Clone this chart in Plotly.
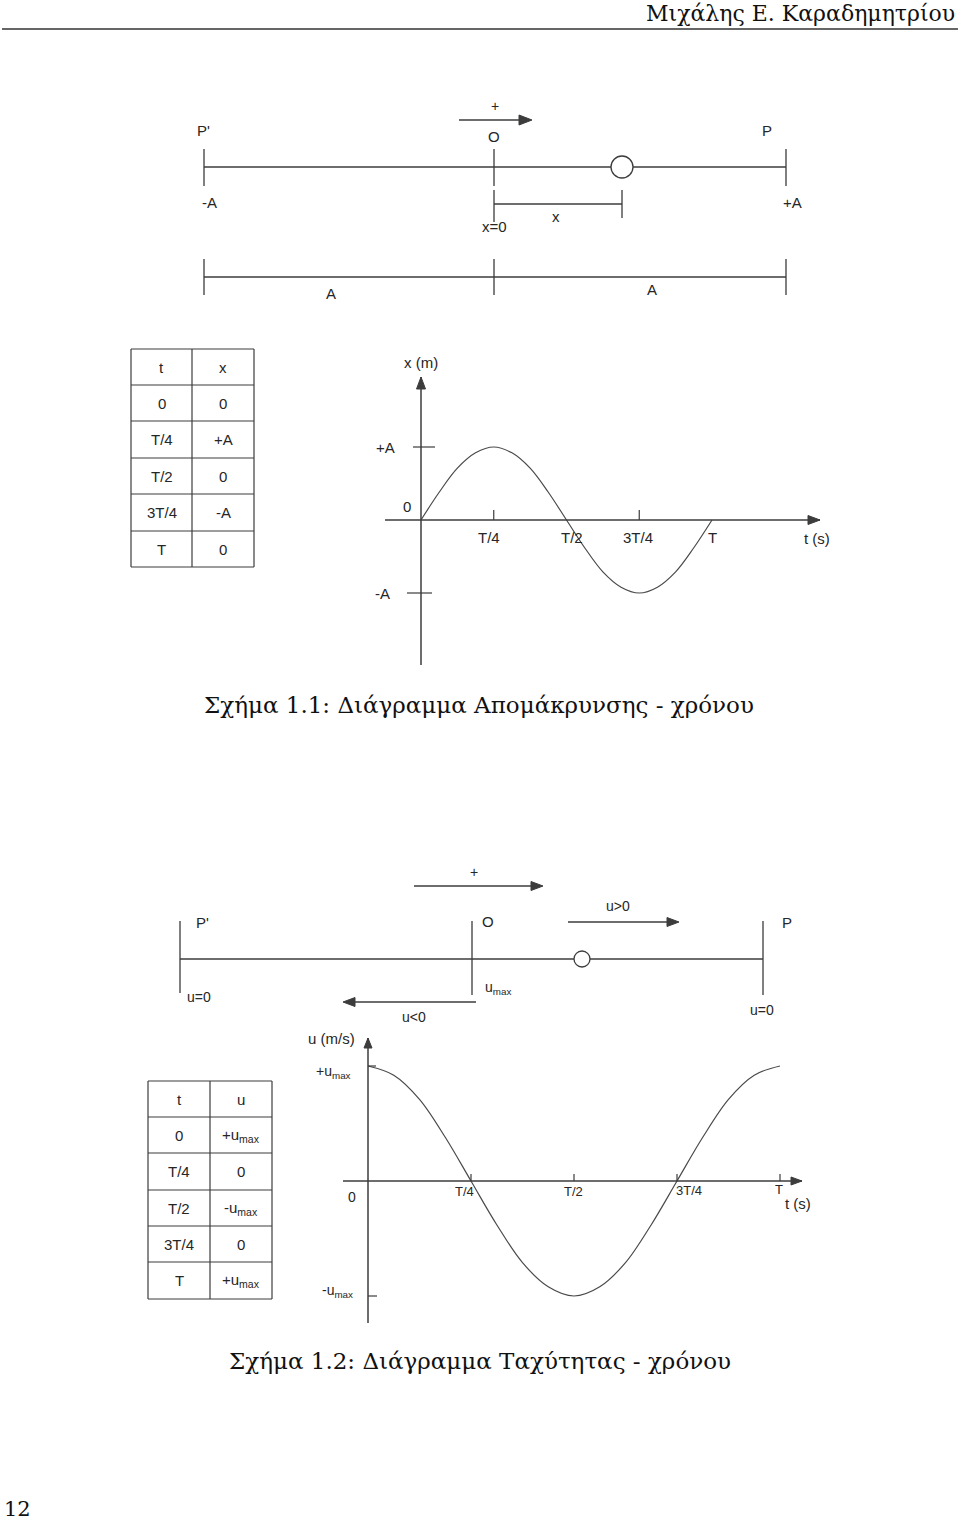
import plotly.graph_objects as go

W, H = 960, 1521

# ---------------- data ----------------
t_labels = ["0", "T/4", "T/2", "3T/4", "T"]
t_key = [0.0, 0.25, 0.5, 0.75, 1.0]
x_key_text = ["0", "+A", "0", "-A", "0"]
u_key_text = ["+u<sub>max</sub>", "0", "-u<sub>max</sub>", "0", "+u<sub>max</sub>"]

# curves (t in units of T, x in units of A, u in units of u_max)
t_curve = [0.0, 0.0625, 0.125, 0.1875, 0.25, 0.3125, 0.375, 0.4375, 0.5,
           0.5625, 0.625, 0.6875, 0.75, 0.8125, 0.875, 0.9375, 1.0]
x_curve = [0.0, 0.38, 0.71, 0.92, 1.0, 0.92, 0.71, 0.38, 0.0,
           -0.38, -0.71, -0.92, -1.0, -0.92, -0.71, -0.38, 0.0]
u_curve = [1.0, 0.92, 0.71, 0.38, 0.0, -0.38, -0.71, -0.92, -1.0,
           -0.92, -0.71, -0.38, 0.0, 0.38, 0.71, 0.92, 1.0]

header_text = "Μιχάλης Ε. Καραδημητρίου"
caption1 = "Σχήμα 1.1: Διάγραμμα Απομάκρυνσης - χρόνου"
caption2 = "Σχήμα 1.2: Διάγραμμα Ταχύτητας - χρόνου"
page_no = "12"

# ---------------- styling ----------------
SANS = "Liberation Sans, Arial, sans-serif"
SERIF = "DejaVu Serif, serif"
LINE = "#3c3c3c"
TXT = "#262626"

shapes = []
ann = []


def seg(x0, y0, x1, y1, xref="x", yref="y", w=1.3, color=LINE):
    shapes.append(dict(type="line", xref=xref, yref=yref, x0=x0, y0=y0, x1=x1, y1=y1,
                       line=dict(color=color, width=w)))


def head(tx, ty, d, L=12, hw=4.5):
    if d == "r":
        pts = [(tx, ty), (tx - L, ty - hw), (tx - L, ty + hw)]
    elif d == "l":
        pts = [(tx, ty), (tx + L, ty - hw), (tx + L, ty + hw)]
    else:  # up
        pts = [(tx, ty), (tx - hw, ty + L), (tx + hw, ty + L)]
    path = "M " + " L ".join(f"{x},{y}" for x, y in pts) + " Z"
    shapes.append(dict(type="path", xref="x", yref="y", path=path, fillcolor=LINE,
                       line=dict(color=LINE, width=1)))


def text(x, y, s, size=14, xref="x", yref="y", xshift=0, yshift=0, family=SANS,
         color=TXT, xanchor="center"):
    ann.append(dict(x=x, y=y, xref=xref, yref=yref, text=s, showarrow=False,
                    font=dict(family=family, size=size, color=color),
                    xanchor=xanchor, yanchor="middle", xshift=xshift, yshift=yshift))


def circle(cx, cy, r):
    shapes.append(dict(type="circle", xref="x", yref="y", x0=cx - r, x1=cx + r,
                       y0=cy - r, y1=cy + r, fillcolor="white",
                       line=dict(color=LINE, width=1.3)))


def table(xs, ys, col0, col1, head0, head1, size=15):
    for y in ys:
        seg(xs[0], y, xs[2], y, w=1.2)
    for x in xs:
        seg(x, ys[0], x, ys[-1], w=1.2)
    cx0 = (xs[0] + xs[1]) / 2
    cx1 = (xs[1] + xs[2]) / 2
    rows = [(head0, head1)] + list(zip(col0, col1))
    for i, (a, b) in enumerate(rows):
        cy = (ys[i] + ys[i + 1]) / 2
        text(cx0, cy, a, size=size)
        text(cx1, cy, b, size=size)


# ---------------- header / footer ----------------
text(957, 13, header_text, size=22, family=SERIF, color="#111", xanchor="right")
seg(2, 29, 958, 29, w=1.8, color="#666")
text(17, 1509, page_no, size=21, family=SERIF, color="#111")

# ---------------- figure 1.1 : top diagram ----------------
text(495, 106, "+", size=14)
seg(459, 120, 520, 120)
head(532, 120, "r", L=13, hw=5)
text(203, 130, "P'", size=15)
text(494, 136, "O", size=15)
text(767, 130, "P", size=15)
seg(204, 167, 786, 167)
for xx in (204, 494, 786):
    seg(xx, 149, xx, 186)
circle(622, 167, 11)
text(209, 202, "-A", size=15)
text(792, 202, "+A", size=15)
seg(494, 190, 494, 222)
seg(494, 204, 622, 204)
seg(622, 190, 622, 218)
text(556, 216, "x", size=15)
text(494, 226, "x=0", size=15)
seg(204, 277, 786, 277)
for xx in (204, 494, 786):
    seg(xx, 259, xx, 295)
text(331, 293, "A", size=15)
text(652, 289, "A", size=15)

# table 1
table([131, 192, 254], [349, 385, 421, 458, 494, 531, 567], t_labels, x_key_text, "t", "x")

# ---------------- figure 1.2 : top diagram ----------------
text(474, 872, "+", size=14)
seg(414, 886, 531, 886)
head(543, 886, "r", L=12, hw=4.5)
text(202, 922, "P'", size=15)
text(488, 921, "O", size=15)
text(618, 906, "u>0", size=14)
seg(568, 922, 667, 922)
head(679, 922, "r", L=12, hw=4.5)
text(787, 922, "P", size=15)
seg(180, 959, 763, 959)
seg(180, 921, 180, 993)
seg(472, 921, 472, 995)
seg(763, 921, 763, 995)
circle(582, 959, 8)
text(199, 997, "u=0", size=14)
text(483, 988, "u<sub>max</sub>", size=14, xanchor="left")
text(414, 1017, "u<0", size=14)
seg(476, 1002, 355, 1002)
head(343, 1002, "l", L=12, hw=4.5)
text(762, 1010, "u=0", size=14)

# table 2
table([148, 210, 272], [1081, 1117, 1153, 1190, 1226, 1262, 1299], t_labels, u_key_text, "t", "u")

# ---------------- graphs ----------------
G1 = dict(ox=421, oy=520, ux=291, uy=73, x0=385, x1=820, y0=377, y1=665)
G2 = dict(ox=368, oy=1181, ux=412, uy=115, x0=343, x1=802, y0=1038, y1=1323)


def axes_for(g):
    xdom = [g["x0"] / W, g["x1"] / W]
    xr = [(g["x0"] - g["ox"]) / g["ux"], (g["x1"] - g["ox"]) / g["ux"]]
    ydom = [1 - g["y1"] / H, 1 - g["y0"] / H]
    yr = [(g["oy"] - g["y1"]) / g["uy"], (g["oy"] - g["y0"]) / g["uy"]]
    return xdom, xr, ydom, yr


xd1, xr1, yd1, yr1 = axes_for(G1)
xd2, xr2, yd2, yr2 = axes_for(G2)

fig = go.Figure()
fig.add_trace(go.Scatter(x=t_curve, y=x_curve, xaxis="x2", yaxis="y2", mode="lines",
                         line=dict(shape="spline", smoothing=1.0, color="#4a4a4a", width=1.2),
                         hoverinfo="skip", showlegend=False))
fig.add_trace(go.Scatter(x=t_curve, y=u_curve, xaxis="x3", yaxis="y3", mode="lines",
                         line=dict(shape="spline", smoothing=1.0, color="#4a4a4a", width=1.2),
                         hoverinfo="skip", showlegend=False))

# graph 1 axes
seg(xr1[0], 0, xr1[1], 0, xref="x2", yref="y2", w=1.5)
seg(0, yr1[0], 0, yr1[1], xref="x2", yref="y2", w=1.5)
head(G1["x1"], G1["oy"], "r", L=12, hw=4.5)
head(G1["ox"], G1["y0"], "u", L=12, hw=4.5)
for tv in (t_key[1], t_key[3]):
    seg(tv, 0, tv, 10 / G1["uy"], xref="x2", yref="y2", w=1.2)
seg(-8 / G1["ux"], 1, 14 / G1["ux"], 1, xref="x2", yref="y2", w=1.2)
seg(-14 / G1["ux"], -1, 11 / G1["ux"], -1, xref="x2", yref="y2", w=1.2)
text(0, 1, x_key_text[1], size=15, xref="x2", yref="y2", xshift=-36)
text(0, -1, x_key_text[3], size=15, xref="x2", yref="y2", xshift=-39)
text(0, 0, x_key_text[0], size=15, xref="x2", yref="y2", xshift=-14, yshift=14)
g1_dx = [0, -5, 5, -1, 0]
for i in range(1, 5):
    text(t_key[i], 0, t_labels[i], size=15, xref="x2", yref="y2", xshift=g1_dx[i], yshift=-17)
text(xr1[1], 0, "t (s)", size=15, xref="x2", yref="y2", xshift=-3, yshift=-18)
text(0, yr1[1], "x (m)", size=15, xref="x2", yref="y2", xshift=0, yshift=15)

# graph 2 axes
seg(xr2[0], 0, xr2[1], 0, xref="x3", yref="y3", w=1.5)
seg(0, yr2[0], 0, yr2[1], xref="x3", yref="y3", w=1.5)
head(G2["x1"], G2["oy"], "r", L=11, hw=4)
head(G2["ox"], G2["y0"], "u", L=10, hw=4)
for tv in t_key[1:]:
    seg(tv, 0, tv, 7 / G2["uy"], xref="x3", yref="y3", w=1.2)
seg(0, 1, 8 / G2["ux"], 1, xref="x3", yref="y3", w=1.2)
seg(0, -1, 9 / G2["ux"], -1, xref="x3", yref="y3", w=1.2)
text(0, 1, u_key_text[0], size=14, xref="x3", yref="y3", xshift=-35, yshift=-6)
text(0, -1, u_key_text[2], size=14, xref="x3", yref="y3", xshift=-31, yshift=5)
text(0, 0, t_labels[0], size=14, xref="x3", yref="y3", xshift=-16, yshift=-16)
g2_dx = [0, -7, -1, 12, -1]
g2_dy = [0, -10, -10, -9, -8]
for i in range(1, 5):
    text(t_key[i], 0, t_labels[i], size=13, xref="x3", yref="y3", xshift=g2_dx[i], yshift=g2_dy[i])
text(xr2[1], 0, "t (s)", size=15, xref="x3", yref="y3", xshift=-4, yshift=-22)
text(0, yr2[1], "u (m/s)", size=15, xref="x3", yref="y3", xshift=-37, yshift=0)

# captions
text(479, 705, caption1, size=23, family=SERIF, color="#111")
text(480, 1361, caption2, size=23, family=SERIF, color="#111")

fig.update_layout(
    width=W, height=H,
    margin=dict(l=0, r=0, t=0, b=0),
    paper_bgcolor="white", plot_bgcolor="white",
    showlegend=False,
    xaxis=dict(domain=[0, 1], range=[0, W], visible=False, fixedrange=True),
    yaxis=dict(domain=[0, 1], range=[H, 0], visible=False, fixedrange=True),
    xaxis2=dict(domain=xd1, range=xr1, visible=False, anchor="y2", fixedrange=True),
    yaxis2=dict(domain=yd1, range=yr1, visible=False, anchor="x2", fixedrange=True),
    xaxis3=dict(domain=xd2, range=xr2, visible=False, anchor="y3", fixedrange=True),
    yaxis3=dict(domain=yd2, range=yr2, visible=False, anchor="x3", fixedrange=True),
    shapes=shapes,
    annotations=ann,
)

fig.write_html("out.html", config={"displayModeBar": False},
               post_script="document.body.style.margin='0';")
